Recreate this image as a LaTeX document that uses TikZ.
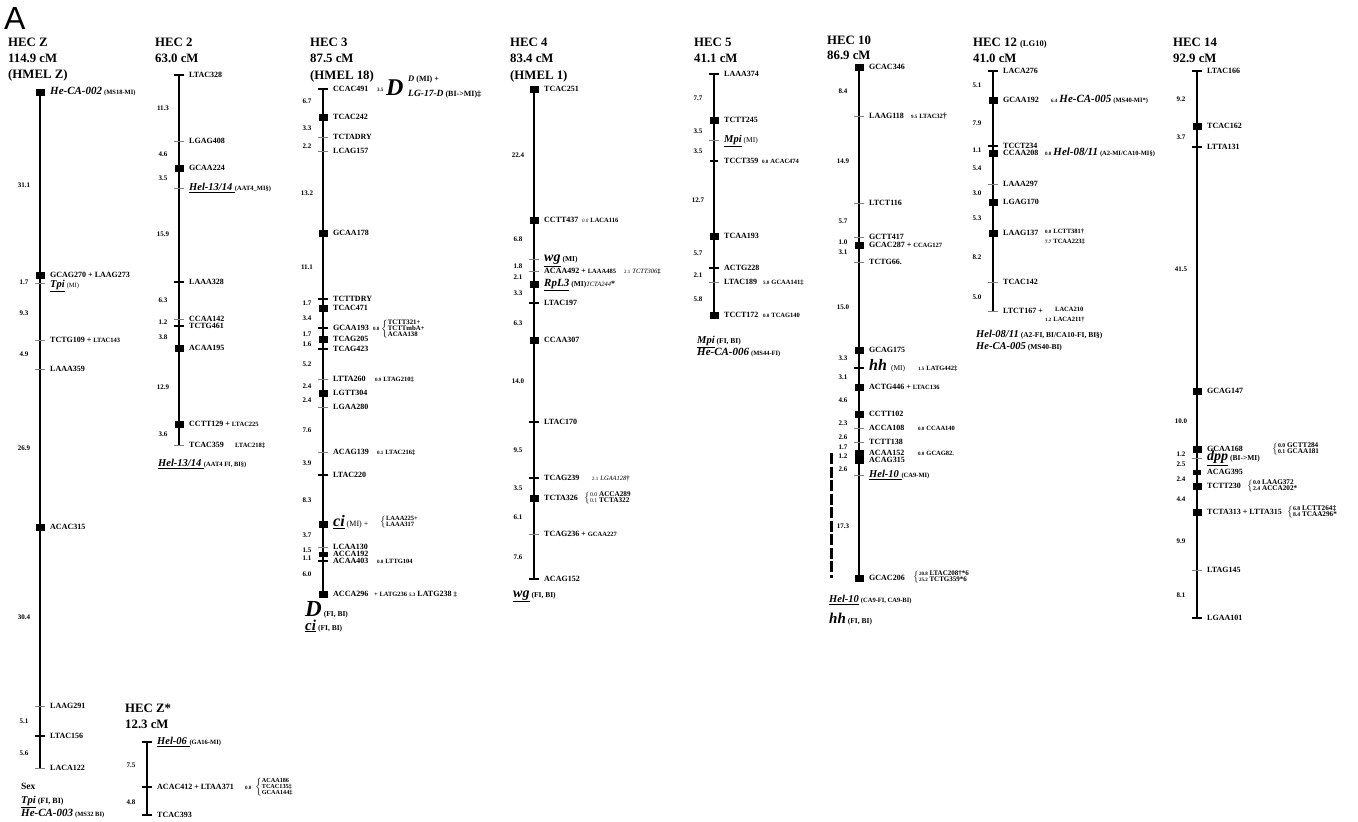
\documentclass[tikz,border=0pt]{standalone}
\usepackage{fontspec}
\setmainfont{Liberation Serif}
\newfontfamily\sansA{Liberation Sans}
\newcommand\fL{\fontsize{8}{9}\selectfont}
\newcommand\fS{\fontsize{6.5}{7}\selectfont}
\newcommand\fT{\fontsize{5}{6}\selectfont}
\newcommand\fB{\fontsize{7.2}{8}\selectfont}
\newcommand\fN{\fontsize{5.8}{6}\selectfont}
\newcommand\bi[2]{{\fontsize{#1}{#1}\selectfont\bfseries\itshape #2}}
\newcommand\ub[2]{\underline{\bi{#1}{#2}}}
\newcommand\mBr[1]{$\left\{\def\arraystretch{0.72}\begin{tabular}{@{}l@{}}#1\end{tabular}\right.$}
\tikzset{
 chr/.style={line width=2.4pt},
 tg/.style={line width=0.6pt,black!50},
 tb/.style={line width=1.3pt},
 lab/.style={anchor=base west,inner sep=0pt,font=\bfseries\fL},
 dist/.style={anchor=base,inner sep=0pt,font=\bfseries\fontsize{7}{8}\selectfont},
 hdr/.style={anchor=base west,inner sep=0pt,font=\bfseries\fontsize{12.8}{14}\selectfont},
 brn/.style={anchor=west,inner sep=0pt,font=\bfseries\fS},
}
\newcommand\mSq[2]{\fill (\cx-4.5,#1-3.5) rectangle (\cx+4.5,#1+3.5); \node[lab] at (\cx+10,#1+2.8) {#2};}
\newcommand\mTg[2]{\draw[tg] (\cx-5,#1)--(\cx+5,#1); \node[lab] at (\cx+10,#1+2.8) {#2};}
\newcommand\mTb[2]{\draw[tb] (\cx-5,#1)--(\cx+5,#1); \node[lab] at (\cx+10,#1+2.8) {#2};}
\newcommand\mDs[2]{\node[dist] at (\cx-16,#1+2.5) {#2};}
\newcommand\mTx[3]{\node[lab] at (#1,#2+2.8) {#3};}
\newcommand\mHd[3]{\node[hdr] at (#1,#2+4.3) {#3};}
\begin{document}
\begin{tikzpicture}[x=1pt,y=-1pt]
\useasboundingbox (0,0) rectangle (1358,822);
\node[anchor=base west,inner sep=0pt,font=\sansA\fontsize{32}{32}\selectfont] at (4,29) {A};

% ---------------- HEC Z
\mHd{8}{42}{HEC Z}
\mHd{8}{58}{114.9 cM}
\mHd{8}{74}{(HMEL Z)}
\def\cx{40}
\draw[chr,line width=2.8pt] (\cx,92)--(\cx,768);
\mSq{92}{\bi{11}{He-CA-002} {\fS(MS18-MI)}}
\mDs{185}{31.1}
\mSq{275}{GCAG270 + LAAG273}
\mDs{282}{1.7}
\mTg{283}{}
\mTx{50}{285}{\ub{10.5}{Tpi} {\mdseries\fS(MI)}}
\mDs{313}{9.3}
\mTg{340}{TCTG109 + {\fS LTAC143}}
\mDs{354}{4.9}
\mTg{369}{LAAA359}
\mDs{448}{26.9}
\mSq{527}{ACAC315}
\mDs{617}{30.4}
\mTg{706}{LAAG291}
\mDs{721}{5.1}
\mTb{736}{LTAC156}
\mDs{753}{5.6}
\mTg{768}{LACA122}
\mTx{21}{787}{\fontsize{9.5}{10}\selectfont Sex}
\mTx{21}{801}{\ub{10.5}{Tpi} (FI, BI)}
\mTx{21}{814}{\bi{11}{He-CA-003} {\fS(MS32 BI)}}

% ---------------- HEC Z*
\mHd{125}{708}{HEC Z*}
\mHd{125}{724}{12.3 cM}
\def\cx{147}
\draw[chr] (\cx,742)--(\cx,815);
\mTb{742}{\ub{10.5}{Hel-06 }{\fS(GA16-MI)}}
\mDs{765}{7.5}
\mTb{787}{ACAC412 + LTAA371}
\node[lab,font=\bfseries\fT] at (245,789) {0.0};
\node[brn,font=\bfseries\fontsize{6.2}{7}\selectfont] at (255,787) {\mBr{ACAA186\\TCAC135‡\\GCAA144‡}};
\mDs{802}{4.8}
\mTb{815}{TCAC393}

% ---------------- HEC 2
\mHd{155}{42}{HEC 2}
\mHd{155}{58}{63.0 cM}
\def\cx{179}
\draw[chr] (\cx,75)--(\cx,445);
\mTb{75}{LTAC328}
\mDs{108}{11.3}
\mTg{141}{LGAG408}
\mDs{154}{4.6}
\mSq{168}{GCAA224}
\mDs{178}{3.5}
\mTg{188}{\ub{10.5}{Hel-13/14 }{\fS(AAT4\_MI§)}}
\mDs{234}{15.9}
\mTb{282}{LAAA328}
\mDs{300}{6.3}
\mTg{319}{CCAA142}
\mDs{322}{1.2}
\mTb{326}{TCTG461}
\mDs{337}{3.8}
\mSq{348}{ACAA195}
\mDs{387}{12.9}
\mSq{424}{CCTT129 + {\fS LTAC225}}
\mDs{434}{3.6}
\mTg{445}{TCAC359}
\mTx{235}{445}{\fS LTAC218‡}
\mTx{158}{464}{\ub{10.5}{Hel-13/14 }{\fS(AAT4 FI, BI§)}}

% ---------------- HEC 3
\mHd{310}{42}{HEC 3}
\mHd{310}{58}{87.5 cM}
\mHd{310}{75}{(HMEL 18)}
\def\cx{323}
\draw[chr] (\cx,89)--(\cx,594);
\mTb{89}{CCAC491}
\node[lab,font=\bfseries\fT] at (377,91) {3.5};
\node[lab] at (386,95) {\bi{24}{D}};
\node[lab] at (408,81) {\bi{8.5}{D} (MI) +};
\node[lab] at (408,96) {\bi{9.5}{LG-17-D} (BI->MI)‡};
\mDs{101}{6.7}
\mSq{117}{TCAC242}
\mDs{128}{3.3}
\mTg{137}{TCTADRY}
\mDs{146}{2.2}
\mTg{151}{LCAG157}
\mDs{193}{13.2}
\mSq{233}{GCAA178}
\mDs{267}{11.1}
\mTb{299}{TCTTDRY}
\mDs{303}{1.7}
\mSq{308}{TCAC471}
\mDs{318}{3.4}
\mTb{328}{GCAA193}
\node[lab,font=\bfseries\fT] at (373,330) {0.0};
\node[brn,font=\bfseries\fontsize{6.8}{7}\selectfont] at (381,329) {\mBr{TCTT321+\\TCTTmbA+\\ACAA138}};
\mDs{334}{1.7}
\mSq{339}{TCAG205}
\mDs{344}{1.6}
\mTb{349}{TCAG423}
\mDs{364}{5.2}
\mTg{379}{LTTA260}
\mTx{375}{379}{{\fT 0.9} {\fS LTAG210‡}}
\mDs{386}{2.4}
\mSq{393}{LGTT304}
\mDs{400}{2.4}
\mTg{407}{LGAA280}
\mDs{430}{7.6}
\mTg{452}{ACAG139}
\mTx{377}{452}{{\fT 0.1} {\fS LTAC216‡}}
\mDs{463}{3.9}
\mTb{475}{LTAC220}
\mDs{500}{8.3}
\mSq{524}{\ub{16}{ci} {\mdseries (MI) +}}
\node[brn] at (380,522) {\mBr{LAAA225+\\LAAA317}};
\mDs{535}{3.7}
\mTg{547}{LCAA130}
\mDs{550}{1.5}
\fill (\cx-4.5,551.5) rectangle (\cx+4.5,556.5);
\node[lab] at (\cx+10,556.8) {ACCA192};
\mDs{558}{1.1}
\mTb{561}{ACAA403}
\mTx{377}{561}{{\fT 0.0} {\fS LTTG104}}
\mDs{574}{6.0}
\mSq{594}{ACCA296}
\mTx{374}{594}{{\fS + LATG236} {\fT 5.3} LATG238 {\fS ‡}}
\node[lab] at (305,616) {\bi{23}{D} {\fontsize{7.5}{8}\selectfont(FI, BI)}};
\node[lab] at (305,630) {\ub{15}{ci} {\fontsize{7.5}{8}\selectfont(FI, BI)}};

% ---------------- HEC 4
\mHd{510}{42}{HEC 4}
\mHd{510}{58}{83.4 cM}
\mHd{510}{75}{(HMEL 1)}
\def\cx{534}
\draw[chr] (\cx,89)--(\cx,579);
\mSq{89}{TCAC251}
\mDs{155}{22.4}
\mSq{220}{CCTT437}
\mTx{582}{220}{{\fT\mdseries\itshape 0.0} {\fS LACA116}}
\mDs{239}{6.8}
\mTg{259}{\ub{14}{wg} {\fontsize{7.5}{8}\selectfont(MI)}}
\mDs{266}{1.8}
\mTg{271}{ACAA492 + {\fS LAAA485}}
\mTx{624}{271}{{\fT\mdseries 2.1} {\fS\mdseries\itshape TCTT306}{\fS‡}}
\mDs{277}{2.1}
\mSq{284}{\ub{11}{RpL3} {\fontsize{7.5}{8}\selectfont(MI)}{\fS\mdseries\itshape TCTA244}*}
\mDs{293}{3.3}
\mTb{303}{LTAC197}
\mDs{323}{6.3}
\mSq{340}{CCAA307}
\mDs{381}{14.0}
\mTb{422}{LTAC170}
\mDs{450}{9.5}
\mTb{478}{TCAG239}
\mTx{592}{478}{{\fT\mdseries 2.1} {\fS\mdseries\itshape LGAA128}{\fS†}}
\mDs{488}{3.5}
\mSq{498}{TCTA326}
\node[brn,font=\bfseries\fB] at (584,498) {\mBr{{\fN\mdseries 0.0} ACCA289\\{\fN\mdseries 0.1} TCTA322}};
\mDs{517}{6.1}
\mTg{534}{TCAG236 + {\fS GCAA227}}
\mDs{557}{7.6}
\mTb{579}{ACAG152}
\node[lab] at (513,597) {\ub{14}{wg} {\fontsize{7.5}{8}\selectfont(FI, BI)}};

% ---------------- HEC 5
\mHd{694}{42}{HEC 5}
\mHd{694}{58}{41.1 cM}
\def\cx{714}
\draw[chr] (\cx,74)--(\cx,315);
\mTb{74}{LAAA374}
\mDs{98}{7.7}
\mSq{120}{TCTT245}
\mDs{131}{3.5}
\mTg{140}{\ub{10.5}{Mpi} {\mdseries\fontsize{7.5}{8}\selectfont(MI)}}
\mDs{151}{3.5}
\draw[line width=2.5pt] (\cx-4,161)--(\cx+4,161);
\node[lab] at (\cx+10,163.8) {TCCT359};
\mTx{762}{161}{{\fT 0.0} {\fS ACAC474}}
\mDs{200}{12.7}
\mSq{236}{TCAA193}
\mDs{253}{5.7}
\mTb{268}{ACTG228}
\mDs{275}{2.1}
\mTg{282}{LTAC189}
\mTx{763}{282}{{\fT 5.0} {\fS GCAA141‡}}
\mDs{299}{5.8}
\mSq{315}{TCCT172}
\mTx{763}{315}{{\fT 0.0} {\fS TCAG140}}
\mTx{697}{341}{\ub{10.5}{Mpi} {\fontsize{7.5}{8}\selectfont(FI, BI)}}
\mTx{697}{353}{\bi{11}{He-CA-006} {\fS(MS44-FI)}}

% ---------------- HEC 10
\mHd{827}{40}{HEC 10}
\mHd{827}{55}{86.9 cM}
\def\cx{859}
\draw[chr] (\cx,67)--(\cx,578);
\mSq{67}{GCAC346}
\mDs{91}{8.4}
\mTg{116}{LAAG118}
\mTx{911}{116}{{\fT 9.5} {\fS LTAC32}†}
\mDs{161}{14.9}
\mTg{203}{LTCT116}
\mDs{221}{5.7}
\mTg{237}{GCTT417}
\mDs{242}{1.0}
\mSq{245}{GCAC287 + {\fS CCAG127}}
\mDs{252}{3.1}
\mTg{262}{TCTG66.}
\mDs{307}{15.0}
\mSq{350}{GCAG175}
\mDs{358}{3.3}
\mTb{368}{\bi{16}{hh}\ \ {\mdseries\fontsize{7.5}{8}\selectfont(MI)}}
\mTx{918}{368}{{\fT 1.5} {\fS LATG442‡}}
\mDs{377}{3.1}
\mSq{387}{ACTG446 + {\fS LTAC136}}
\mDs{400}{4.6}
\mSq{414}{CCTT102}
\mDs{423}{2.3}
\mTg{428}{ACCA108}
\mTx{918}{428}{{\fT 0.0} {\fS CCAA140}}
\mDs{437}{2.6}
\mTg{442}{TCTT138}
\mDs{447}{1.7}
\mSq{453}{ACAA152}
\mTx{918}{453}{{\fT 0.0} {\fS GCAG82.}}
\mDs{456}{1.2}
\mSq{460}{ACAG315}
\mDs{469}{2.6}
\mTg{475}{\ub{10.5}{Hel-10 }{\fS(CA9-MI)}}
\mDs{526}{17.3}
\mSq{578}{GCAC206}
\node[brn,font=\bfseries\fontsize{7}{7}\selectfont] at (913,577) {\mBr{{\fT 20.8} LTAC208†*6\\{\fT 25.2} TCTG359*6}};
\draw[line width=3pt,dash pattern=on 11pt off 2.5pt] (831,453)--(831,578);
\mTx{829}{600}{\ub{10.5}{Hel-10} {\fS(CA9-FI, CA9-BI)}}
\mTx{829}{621}{\bi{15}{hh} {\fontsize{7.5}{8}\selectfont(FI, BI)}}

% ---------------- HEC 12
\node[hdr] at (973,46.3) {HEC 12 {\fontsize{8.5}{9}\selectfont(LG10)}};
\mHd{973}{58}{41.0 cM}
\def\cx{993}
\draw[chr] (\cx,71)--(\cx,311);
\mTb{71}{LACA276}
\mDs{85}{5.1}
\mSq{100}{GCAA192}
\mTx{1051}{100}{{\fT 6.4} \bi{11}{He-CA-005} {\fS(MS40-MI*)}}
\mDs{123}{7.9}
\mTb{146}{TCCT234}
\mDs{150}{1.1}
\mSq{153}{CCAA208}
\mTx{1045}{153}{{\fT 0.0} \bi{11}{Hel-08/11} {\fS(A2-MI/CA10-MI§)}}
\mDs{168}{5.4}
\mTg{184}{LAAA297}
\mDs{193}{3.0}
\mSq{202}{LGAG170}
\mDs{218}{5.3}
\mSq{233}{LAAG137}
\mTx{1045}{231}{{\fT 0.0} {\fS LCTT381†}}
\mTx{1045}{241}{{\fT 7.7} {\fS TCAA223‡}}
\mDs{257}{8.2}
\mTg{282}{TCAC142}
\mDs{297}{5.0}
\mTg{311}{LTCT167 +}
\mTx{1055}{309}{\fS LACA210}
\mTx{1045}{319}{{\fT 1.2} {\fS LACA211†}}
\mTx{976}{335}{\bi{10.5}{Hel-08/11} {\fontsize{7.5}{8}\selectfont(A2-FI, BI/CA10-FI, BI§)}}
\mTx{976}{347}{\bi{10.5}{He-CA-005} {\fontsize{7.5}{8}\selectfont(MS40-BI)}}

% ---------------- HEC 14
\mHd{1173}{42}{HEC 14}
\mHd{1173}{58}{92.9 cM}
\def\cx{1197}
\draw[chr] (\cx,71)--(\cx,618);
\mTb{71}{LTAC166}
\mDs{99}{9.2}
\mSq{126}{TCAC162}
\mDs{137}{3.7}
\mTb{147}{LTTA131}
\mDs{269}{41.5}
\mSq{391}{GCAG147}
\mDs{421}{10.0}
\mSq{449}{GCAA168}
\mDs{454}{1.2}
\mTg{458}{\ub{14}{dpp} {\fontsize{7.5}{8}\selectfont(BI->MI)}}
\node[brn,font=\bfseries\fB] at (1272,449) {\mBr{{\fN 0.0} GCTT284\\{\fN 0.1} GCAA181}};
\mDs{464}{2.5}
\fill (\cx-4,469.5) rectangle (\cx+4,474.5);
\node[lab] at (\cx+10,474.8) {ACAG395};
\mDs{479}{2.4}
\mSq{486}{TCTT230}
\node[brn,font=\bfseries\fB] at (1247,486) {\mBr{{\fN 0.0} LAAG372\\{\fN 2.4} ACCA202*}};
\mDs{499}{4.4}
\mSq{512}{TCTA313 + LTTA315}
\node[brn,font=\bfseries\fB] at (1287,512) {\mBr{{\fN 6.8} LCTT264‡\\{\fN 8.4} TCAA296*}};
\mDs{541}{9.9}
\mTg{570}{LTAG145}
\mDs{595}{8.1}
\mTb{618}{LGAA101}
\end{tikzpicture}
\end{document}
